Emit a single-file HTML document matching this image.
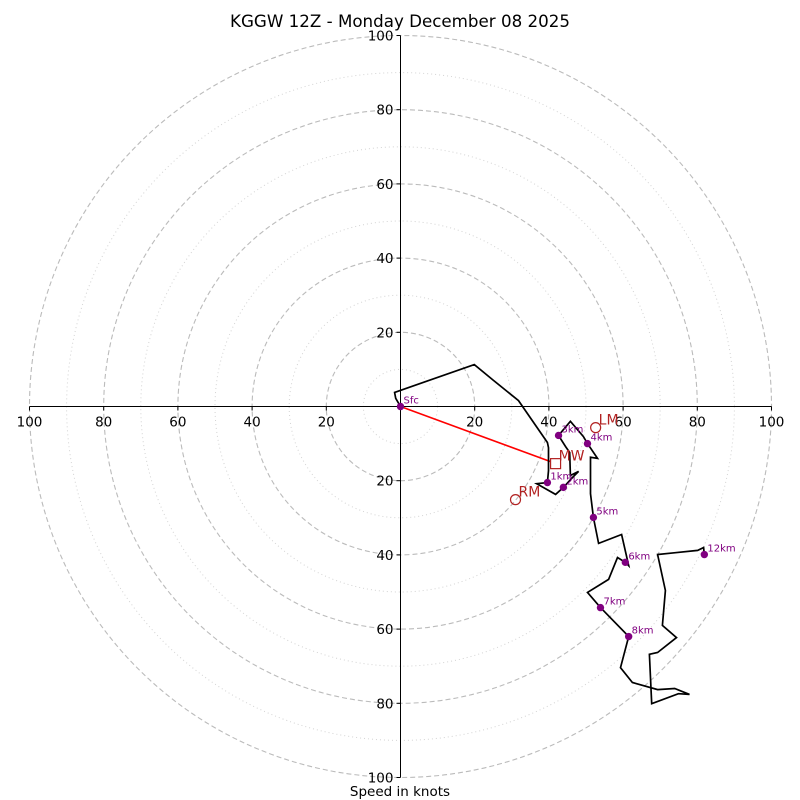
<!DOCTYPE html>
<html><head><meta charset="utf-8"><style>
body{margin:0;background:#fff}
svg{display:block;font-family:"DejaVu Sans","Liberation Sans",sans-serif}
</style></head><body>
<svg id="chart" width="800" height="800" viewBox="0 0 800 800">
<text x="400" y="27" text-anchor="middle" font-size="16.7">KGGW 12Z - Monday December 08 2025</text>
<text x="400" y="796" text-anchor="middle" font-size="13.5">Speed in knots</text>
<g id="rings"></g><g id="axes"></g><g id="trace"></g><g id="markers"></g>
</svg>
<script>
const ringMajor=[20,40,60,80,100];
const ringMinor=[10,30,50,70,90];
const tickValues=[-100,-80,-60,-40,-20,20,40,60,80,100];
const traceU=[0,-1.3,-1.6,19.9,25.1,31.8,39.6,39.9,39.9,39.6,36.7,41.8,43.9,46.4,48.0,45.8,45.6,44.5,42.6,45.8,49.3,50.4,53.1,51.2,51.2,52.0,53.4,59.6,61.5,60.6,58.5,56.1,50.4,53.9,61.5,59.3,62.5,69.3,73.9,77.9,74.9,67.7,67.1,69.3,74.4,70.6,71.4,69.3,74.1,80.1,81.7,81.9];
const traceV=[0,2.2,3.8,11.3,7.0,1.6,-9.7,-11.1,-17.3,-20.5,-20.8,-23.7,-21.8,-19.1,-17.5,-18.6,-12.4,-10.8,-7.8,-4.0,-8.1,-10.0,-14.0,-13.7,-23.5,-29.9,-36.9,-34.5,-42.9,-42.0,-40.7,-46.6,-50.1,-54.2,-62.0,-70.4,-74.4,-76.3,-76.0,-77.6,-77.4,-80.1,-66.8,-66.3,-62.3,-59.0,-49.6,-39.9,-39.4,-38.8,-38.0,-39.9];
const levelLabels=["Sfc","1km","2km","3km","4km","5km","6km","7km","8km","12km"];
const levelU=[0,39.6,43.9,42.6,50.4,52.0,60.6,53.9,61.5,81.9];
const levelV=[0,-20.5,-21.8,-7.8,-10.0,-29.9,-42.0,-54.2,-62.0,-39.9];
const mwUV=[41.8,-15.4];
const lmUV=[52.6,-5.7];
const rmUV=[31.0,-25.1];

const CX=400.5,CY=406.5,S=3.71;
const sx=u=>CX+u*S, sy=v=>CY-v*S;
const NS="http://www.w3.org/2000/svg";
function mk(tag,attrs,parent,text){const e=document.createElementNS(NS,tag);for(const k in attrs)e.setAttribute(k,attrs[k]);if(text!==undefined)e.textContent=text;parent.appendChild(e);return e;}
const rings=document.getElementById('rings'),axes=document.getElementById('axes'),trace=document.getElementById('trace'),markers=document.getElementById('markers');
ringMinor.forEach(r=>{const c=mk('circle',{cx:CX,cy:CY,r:r*S,fill:'none',stroke:'#d3d3d3','stroke-width':1,'stroke-dasharray':'1,3'},rings);

});
ringMajor.forEach(r=>{const c=mk('circle',{cx:CX,cy:CY,r:r*S,fill:'none',stroke:'#bbbbbb','stroke-width':1.1,'stroke-dasharray':'5,3'},rings);

});
const xa=mk('line',{x1:sx(-100),y1:CY,x2:sx(100),y2:CY,stroke:'#000','stroke-width':1},axes);


const ya=mk('line',{x1:CX,y1:sy(100),x2:CX,y2:sy(-100),stroke:'#000','stroke-width':1},axes);


tickValues.forEach(t=>{
 mk('line',{x1:sx(t),y1:CY,x2:sx(t),y2:CY+4,stroke:'#000'},axes);
 const tx=mk('text',{x:sx(t),y:CY+20,'text-anchor':'middle','font-size':13.5},axes,Math.abs(t));
 
 
 mk('line',{x1:CX-4,y1:sy(t),x2:CX,y2:sy(t),stroke:'#000'},axes);
 const ty=mk('text',{x:CX-7,y:sy(t)+5,'text-anchor':'end','font-size':13.5},axes,Math.abs(t));
 
 
});
const ar=mk('line',{x1:sx(0),y1:sy(0),x2:sx(mwUV[0])-5,y2:sy(mwUV[1])-2,stroke:'red','stroke-width':1.6},trace);


const pts=traceU.map((u,i)=>sx(u).toFixed(1)+','+sy(traceV[i]).toFixed(1)).join(' ');
const pl=mk('polyline',{points:pts,fill:'none',stroke:'#000','stroke-width':1.7,'stroke-linejoin':'miter'},trace);


levelLabels.forEach((l,i)=>{
 const c=mk('circle',{cx:sx(levelU[i]),cy:sy(levelV[i]),r:3.7,fill:'purple'},markers);
 
 
 const t=mk('text',{x:sx(levelU[i])+3,y:sy(levelV[i])-3,'font-size':10,fill:'purple'},markers,l);
 
 
});
const mw=mk('rect',{x:sx(mwUV[0])-5,y:sy(mwUV[1])-5,width:10,height:10,fill:'none',stroke:'#b22222','stroke-width':1.2},markers);


const mwt=mk('text',{x:sx(mwUV[0])+3,y:sy(mwUV[1])-3,'font-size':14,fill:'#b22222'},markers,'MW');


const lm=mk('circle',{cx:sx(lmUV[0]),cy:sy(lmUV[1]),r:5,fill:'none',stroke:'#b22222','stroke-width':1.2},markers);


const lmt=mk('text',{x:sx(lmUV[0])+3,y:sy(lmUV[1])-3,'font-size':14,fill:'#b22222'},markers,'LM');


const rm=mk('circle',{cx:sx(rmUV[0]),cy:sy(rmUV[1]),r:5,fill:'none',stroke:'#b22222','stroke-width':1.2},markers);


const rmt=mk('text',{x:sx(rmUV[0])+3,y:sy(rmUV[1])-3,'font-size':14,fill:'#b22222'},markers,'RM');


</script>
</body></html>
